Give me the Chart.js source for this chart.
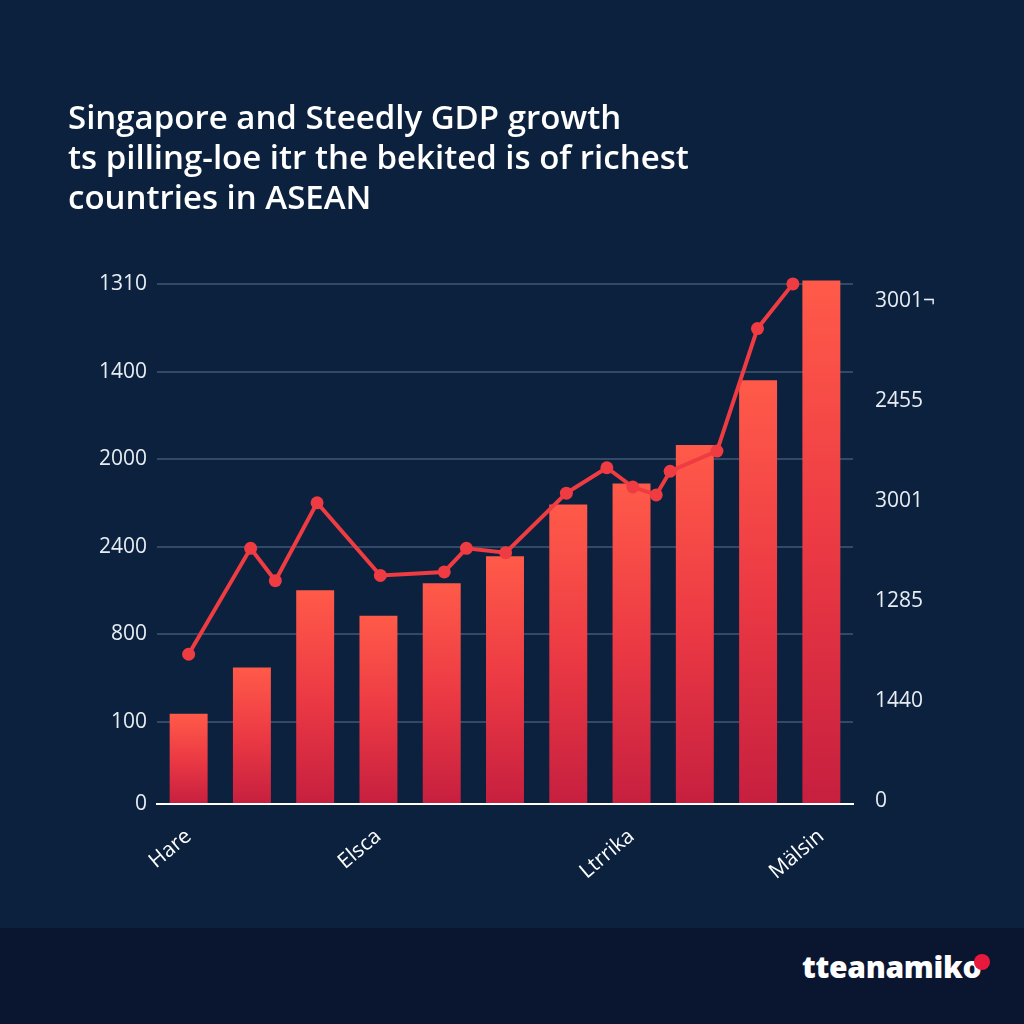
<!DOCTYPE html>
<html>
<head>
<meta charset="utf-8">
<script src="https://cdn.jsdelivr.net/npm/chart.js@4.4.1/dist/chart.umd.min.js"></script>
<style>
html,body{margin:0;padding:0;width:1024px;height:1024px;overflow:hidden;background:#0b213e;}
#wrap{position:absolute;left:0;top:0;width:1024px;height:928px;}
#footer{position:absolute;left:0;top:928px;width:1024px;height:96px;background:#0a1630;}
#logo{position:absolute;left:802px;top:949px;font-family:"Open Sans";font-weight:800;font-size:30px;line-height:36px;color:#ffffff;letter-spacing:-0.3px;white-space:nowrap;}
#dot{position:absolute;left:974px;top:954px;width:16px;height:16px;border-radius:50%;background:#e8193c;}
</style>
</head>
<body>
<div id="wrap"><canvas id="c"></canvas></div>
<div id="footer"></div>
<div id="logo">tteanamiko</div>
<div id="dot"></div>
<script>
const titleLines = [
  "Singapore and Steedly GDP growth",
  "ts pilling-loe itr the bekited is of richest",
  "countries in ASEAN"
];
const categories = ["Hare","","","Elsca","","","","Ltrrika","","","Mälsin"];
const barValues = [1.03,1.56,2.44,2.15,2.52,2.83,3.42,3.66,4.10,4.84,5.98];
const linePositions = [0,0.98,1.37,2.03,3.03,4.04,4.39,5.01,5.97,6.61,7.02,7.39,7.61,8.35,8.99,9.55];
const lineValues = [1.71,2.92,2.55,3.44,2.61,2.65,2.92,2.87,3.55,3.84,3.62,3.53,3.80,4.03,5.43,5.94];
const leftTickValues = [0,0.936,1.936,2.936,3.936,4.936,5.936];
const leftTickLabels = ["0","100","800","2400","2000","1400","1310"];
const rightTickValues = [0,1,2,3,4,5];
const rightTickLabels = ["0","1440","1285","3001","2455","3001\u00ac"];

Chart.defaults.font.family = "'Open Sans', 'DejaVu Sans', sans-serif";

const lineColor = "#ef3b42";

function barGradient(context) {
  const chart = context.chart;
  const area = chart.chartArea;
  if (!area || context.type !== "data") return "#ee3a44";
  const v = context.parsed ? context.parsed.y : context.raw;
  const yScale = chart.scales.y;
  const top = yScale.getPixelForValue(v);
  const bottom = yScale.getPixelForValue(0);
  if (!isFinite(top) || !isFinite(bottom) || top === bottom) return "#ee3a44";
  const g = chart.ctx.createLinearGradient(0, top, 0, bottom);
  g.addColorStop(0, "#ff5a49");
  g.addColorStop(0.5, "#ec3a44");
  g.addColorStop(1, "#c61f3f");
  return g;
}

new Chart(document.getElementById("c"), {
  data: {
    labels: categories,
    datasets: [
      {
        type: "line",
        label: "growth",
        data: linePositions.map((x, i) => ({ x: x, y: lineValues[i] })),
        xAxisID: "xLine",
        yAxisID: "y",
        borderColor: lineColor,
        backgroundColor: lineColor,
        borderWidth: 4,
        pointRadius: 6.5,
        pointBorderWidth: 0,
        pointBackgroundColor: lineColor,
        tension: 0,
        order: 0
      },
      {
        type: "bar",
        label: "GDP",
        data: barValues,
        xAxisID: "x",
        yAxisID: "y",
        backgroundColor: barGradient,
        borderWidth: 0,
        grouped: false,
        categoryPercentage: 1,
        barPercentage: 0.6,
        order: 1
      }
    ]
  },
  options: {
    responsive: true,
    maintainAspectRatio: false,
    animation: false,
    layout: { padding: { left: 68, right: 71, top: 0, bottom: 0 } },
    plugins: {
      legend: { display: false },
      tooltip: { enabled: false },
      title: {
        display: true,
        align: "start",
        text: titleLines,
        color: "#ffffff",
        font: { size: 33, weight: "600", lineHeight: 40 / 33 },
        padding: { top: 100, bottom: 56 }
      }
    },
    scales: {
      x: {
        type: "category",
        offset: true,
        grid: { display: false },
        border: { display: true, color: "#ffffff", width: 2 },
        ticks: {
          autoSkip: false,
          maxRotation: 40,
          minRotation: 40,
          color: "#ffffff",
          font: { size: 21 },
          padding: 12
        },
        afterFit: (s) => { s.height = 124; }
      },
      xLine: {
        type: "linear",
        display: false,
        min: -0.5,
        max: 10.5
      },
      y: {
        type: "linear",
        position: "left",
        min: 0,
        max: 6.03,
        afterBuildTicks: (s) => { s.ticks = leftTickValues.map(v => ({ value: v })); },
        grid: { color: "rgba(130,150,180,0.35)", lineWidth: 2, drawTicks: false },
        border: { display: false },
        ticks: {
          color: "#e8edf3",
          font: { size: 21 },
          padding: 10,
          callback: (v, i) => leftTickLabels[i]
        },
        afterFit: (s) => { s.width = 89; }
      },
      y2: {
        type: "linear",
        position: "right",
        min: -0.03,
        max: 5.25,
        afterBuildTicks: (s) => { s.ticks = rightTickValues.map(v => ({ value: v })); },
        grid: { display: false },
        border: { display: false },
        ticks: {
          color: "#e8edf3",
          font: { size: 21 },
          padding: 14,
          callback: (v, i) => rightTickLabels[i]
        },
        afterFit: (s) => { s.width = 100; }
      }
    }
  }
});
</script>
</body>
</html>
